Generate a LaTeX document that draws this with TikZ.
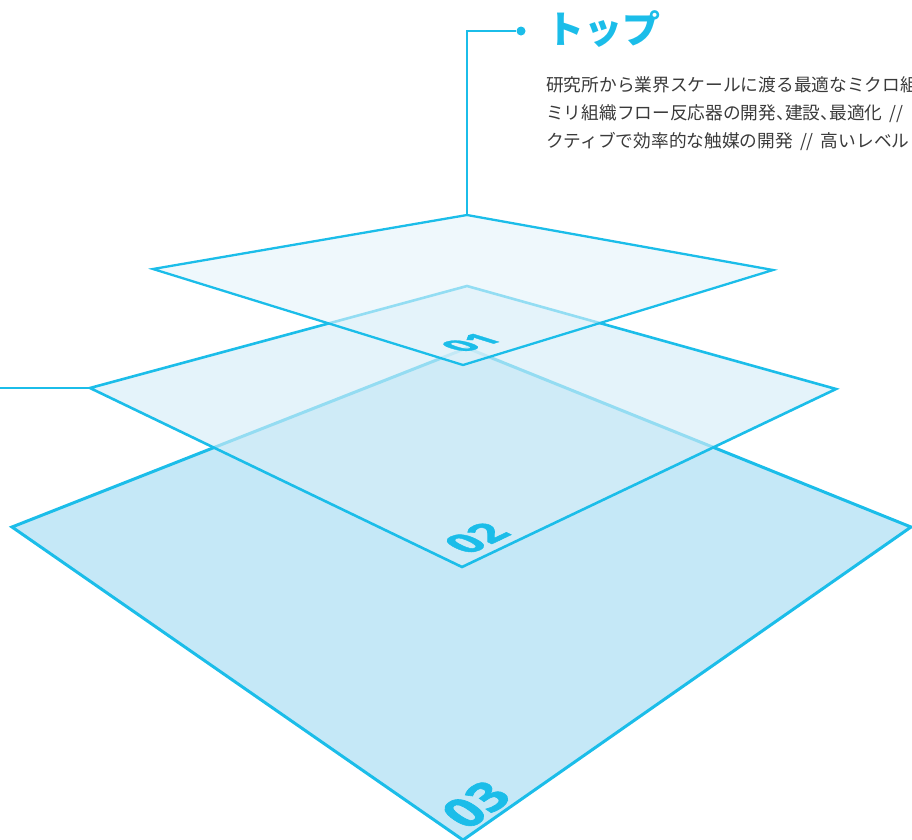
\documentclass[tikz,border=0pt]{standalone}
\usepackage{fontspec}
\newfontfamily\jpfont{Noto Sans CJK JP}
\newfontfamily\numfont{Open Sans}[BoldFeatures={FakeBold=1.5}]
\newcommand\halfcomma{\makebox[0.5em][l]{、}}
\newcommand\slashgap{\hspace{0.4em}}
\definecolor{planeline}{RGB}{27,189,233}
\definecolor{planea}{RGB}{228,243,250}
\definecolor{planeb}{RGB}{213,237,247}
\definecolor{planec}{RGB}{197,232,247}
\definecolor{bodygray}{RGB}{58,58,58}
\tikzset{
  plane/.style={draw=planeline, line width=2.6pt, line join=miter},
  leader/.style={draw=planeline, line width=2pt},
  layerno/.style={transform shape, inner sep=0pt, text=planeline},
  bodyline/.style={anchor=base west, inner sep=0pt, text=bodygray,
    font=\jpfont\fontsize{17.7}{17.7}\selectfont},
}
\begin{document}
\begin{tikzpicture}[x=1pt,y=-1pt]
  \useasboundingbox (0,0) rectangle (912,839);
  \coordinate (t1) at (467,215);
  \coordinate (r1) at (773,270);
  \coordinate (b1) at (463,365);
  \coordinate (l1) at (153,269);
  \coordinate (t2) at (467,286);
  \coordinate (r2) at (836,389);
  \coordinate (b2) at (462,567);
  \coordinate (l2) at (90,388);
  \coordinate (t3) at (467,348);
  \coordinate (r3) at (911,527);
  \coordinate (b3) at (463,840);
  \coordinate (l3) at (12,527);
  \coordinate (c1) at (471,342.5);
  \coordinate (c2) at (476.5,538);
  \coordinate (c3) at (476,804.5);
  \path[plane, line width=3pt, fill=planec] (t3) -- (r3) -- (b3) -- (l3) -- cycle;
  \begin{scope}[shift={(c3)}, cm={0.821,0.571,-0.827,0.563,(0,0)}]
    \node[layerno, font=\numfont\bfseries\fontsize{50}{50}\selectfont] (n03) at (0,0) {03};
  \end{scope}
  \path[plane, fill=planeb, fill opacity=0.65] (t2) -- (r2) -- (b2) -- (l2) -- cycle;
  \begin{scope}[shift={(c2)}, cm={0.903,0.431,-0.900,0.436,(0,0)}]
    \node[layerno, font=\numfont\bfseries\fontsize{43}{43}\selectfont] (n02) at (0,0) {02};
  \end{scope}
  \path[plane, line width=2.3pt, fill=planea, fill opacity=0.6] (t1) -- (r1) -- (b1) -- (l1) -- cycle;
  \begin{scope}[shift={(c1)}, cm={0.957,0.292,-0.955,0.297,(0,0)}]
    \node[layerno, font=\numfont\bfseries\fontsize{38}{38}\selectfont] (n01) at (0,0) {01};
  \end{scope}
  \coordinate (edge) at (0,388);
  \coordinate (bend) at (467,31);
  \node[circle, fill=planeline, inner sep=0pt, minimum size=9pt] (dot) at (521,31) {};
  \draw[leader] (t1) -- (bend) -- (dot);
  \draw[leader] (edge) -- (l2);
  \node[anchor=base west, inner sep=0pt, text=planeline,
    font=\jpfont\bfseries\fontsize{38}{38}\selectfont] (title) at (546,43) {トップ};
  \node[bodyline] (line1) at (546,91) {研究所から業界スケールに渡る最適なミクロ組};
  \node[bodyline] (line2) at (546,119) {ミリ組織フロー反応器の開発\halfcomma 建設\halfcomma 最適化\slashgap//};
  \node[bodyline] (line3) at (546,147) {クティブで効率的な触媒の開発\slashgap//\slashgap 高いレベル};
\end{tikzpicture}
\end{document}
